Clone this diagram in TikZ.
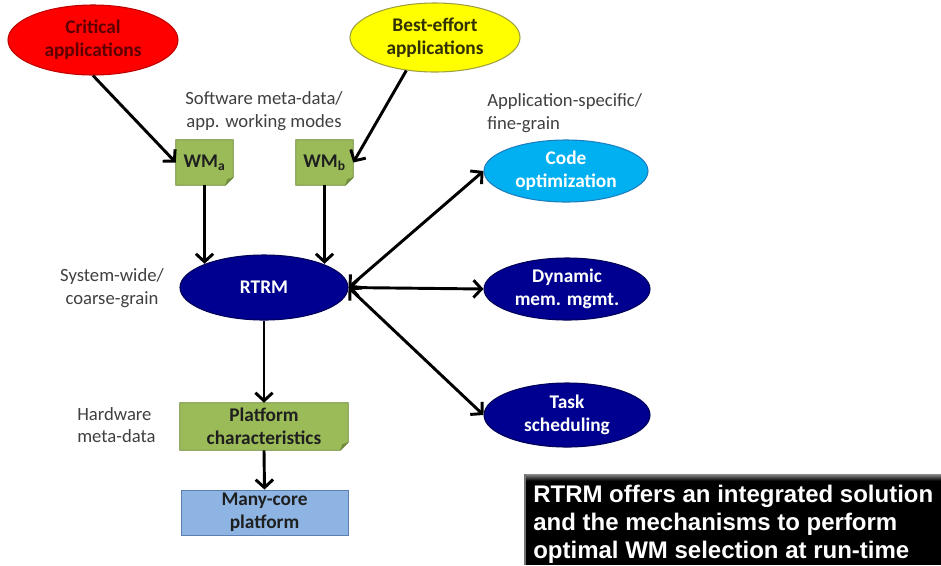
\documentclass[tikz,border=0pt]{standalone}
\usepackage{fontspec}
\setmainfont{Carlito}
\newfontfamily\arialfont{Liberation Sans}
\usetikzlibrary{arrows.meta,shapes.geometric,backgrounds}
\definecolor{wmgreen}{HTML}{9BBB59}
\definecolor{wmedge}{HTML}{71893F}
\definecolor{wmfold}{HTML}{6E8A3A}
\definecolor{redfill}{HTML}{FF0000}
\definecolor{rededge}{HTML}{C00000}
\definecolor{redtext}{HTML}{5C0000}
\definecolor{yelfill}{HTML}{FFFF00}
\definecolor{yeledge}{HTML}{A0A040}
\definecolor{yeltext}{HTML}{303000}
\definecolor{cyanfill}{HTML}{00B0F0}
\definecolor{cyanedge}{HTML}{1C7FC0}
\definecolor{navyfill}{HTML}{000090}
\definecolor{navyedge}{HTML}{00005A}
\definecolor{corefill}{HTML}{8DB4E2}
\definecolor{coreedge}{HTML}{5A7FB0}
\definecolor{labelgray}{HTML}{404040}
\newcommand\dogear[1]{%
  \fill[wmgreen,draw=wmedge,line width=0.6pt] (#1.north west) -- (#1.north east) -- ([yshift=6pt]#1.south east) -- ([xshift=-6pt]#1.south east) -- (#1.south west) -- cycle;
  \fill[wmfold] ([yshift=6pt]#1.south east) -- ([xshift=-6pt]#1.south east) -- ([xshift=-4.5pt,yshift=4.5pt]#1.south east) -- cycle;}
\begin{document}
\begin{tikzpicture}[x=0.75pt,y=-0.75pt,
  ell/.style={ellipse,inner sep=0pt,line width=0.8pt,align=center,
    font=\fontsize{14.5}{17.5}\selectfont\bfseries},
  note/.style={rectangle,inner sep=0pt,align=center,text=black!88,
    font=\fontsize{14.5}{17.5}\selectfont\bfseries},
  lbl/.style={inner sep=0pt,text=labelgray,font=\fontsize{14}{16.8}\selectfont},
  arr/.style={line width=2.2pt,-{Straight Barb[length=6pt,width=13pt]}},
  darr/.style={line width=2.2pt,{Straight Barb[length=6pt,width=13pt]}-{Straight Barb[length=6pt,width=13pt]}}]
\useasboundingbox (0,0) rectangle (941,565);

% ellipses
\node[ell,fill=redfill,draw=rededge,text=redtext,minimum width=127.5pt,minimum height=52.5pt] (crit) at (93,40) {Critical\\applications};
\node[ell,fill=yelfill,draw=yeledge,text=yeltext,minimum width=127.5pt,minimum height=51.75pt] (best) at (435,37.5) {Best-effort\\applications};
\node[ell,fill=cyanfill,draw=cyanedge,text=white,minimum width=123pt,minimum height=46.5pt] (code) at (566,171) {Code\\optimization};
\node[ell,fill=navyfill,draw=navyedge,text=white,minimum width=126pt,minimum height=48.75pt] (rtrm) at (264,287.5) {RTRM};
\node[ell,fill=navyfill,draw=navyedge,text=white,minimum width=124.5pt,minimum height=46.5pt] (dyn) at (567,289) {Dynamic\\mem. mgmt.};
\node[ell,fill=navyfill,draw=navyedge,text=white,minimum width=124.5pt,minimum height=48pt] (task) at (567,415) {Task\\scheduling};

% notes
\node[note,minimum width=42.75pt,minimum height=33.75pt] (wma) at (204.5,162.5) {WM\textsubscript{a}};
\node[note,minimum width=42.75pt,minimum height=33.75pt] (wmb) at (324.5,162.5) {WM\textsubscript{b}};
\node[note,minimum width=126pt,minimum height=35.25pt] (plat) at (264,426.5) {Platform\\characteristics};
\node[note,fill=corefill,draw=coreedge,line width=0.6pt,minimum width=125.25pt,minimum height=33.75pt] (many) at (264.5,512.5) {Many-core\\platform};
\begin{scope}[on background layer]
  \fill[white] (0,0) rectangle (941,565);
  \dogear{wma}
  \dogear{wmb}
  \dogear{plat}
\end{scope}

% labels
\node[lbl,align=center] (swlbl) at (264,111) {Software meta-data/\\app. working modes};
\node[lbl,align=left,anchor=west] (applbl) at (487,113) {Application-specific/\\fine-grain};
\node[lbl,align=center] (syslbl) at (112,288) {System-wide/\\coarse-grain};
\node[lbl,align=left,anchor=west] (hwlbl) at (77,425) {Hardware\\meta-data};

% connectors
\draw[arr] (crit.south) -- (wma.west);
\draw[arr] (best.229) -- (wmb.east);
\draw[arr] (wma.south) -- (wma.south |- rtrm.158);
\draw[arr] (wmb.south) -- (wmb.south |- rtrm.22);
\draw[darr] (rtrm.east) -- (code.west);
\draw[darr] (rtrm.east) -- (dyn.west);
\draw[darr] (rtrm.east) -- (task.west);
\draw[arr] (rtrm.south) -- (plat.north);
\draw[arr] (plat.south) -- (many.north);

% summary box
\coordinate (boxnw) at (524,474);
\coordinate (boxse) at (941,565);
\fill[black] (boxnw) rectangle (boxse);
\shade[top color=black!45,bottom color=black] (boxnw) rectangle ([yshift=-5pt]boxse |- boxnw);
\fill[black!55] (boxnw) rectangle ([xshift=1.5pt]boxnw |- boxse);
\node[anchor=north west,inner sep=0pt,align=left,text=white,
  font=\arialfont\bfseries\fontsize{18}{21}\selectfont] (summary) at (533,484.5)
  {RTRM offers an integrated solution\\and the mechanisms to perform\\optimal WM selection at run-time};
\end{tikzpicture}
\end{document}
